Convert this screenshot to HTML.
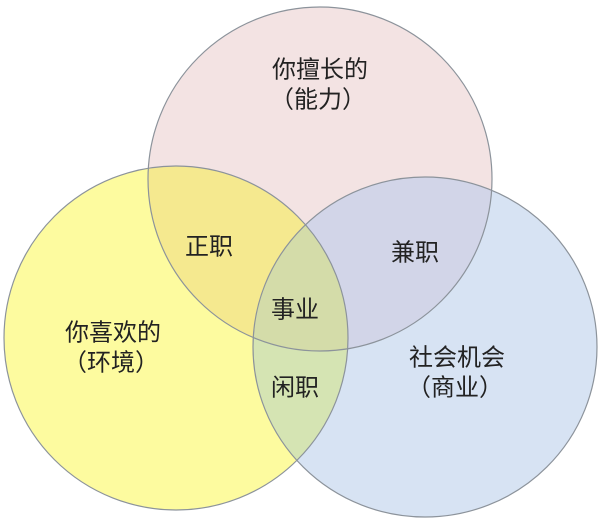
<!DOCTYPE html>
<html><head><meta charset="utf-8"><style>
html,body{margin:0;padding:0;background:#fff;}
svg{display:block;}
text{font-family:"Liberation Sans","Noto Sans CJK SC",sans-serif;font-size:24px;fill:#222;text-anchor:middle;dominant-baseline:central;}
</style></head><body>
<svg width="600" height="523" viewBox="0 0 600 523">
<defs>
<clipPath id="cT"><ellipse cx="320" cy="179" rx="172" ry="172"/></clipPath>
<clipPath id="cL"><ellipse cx="176" cy="338" rx="172" ry="172"/></clipPath>
<clipPath id="cR"><ellipse cx="425" cy="347" rx="172" ry="170"/></clipPath>
</defs>
<ellipse cx="320" cy="179" rx="172" ry="172" fill="#f3e3e3"/>
<ellipse cx="176" cy="338" rx="172" ry="172" fill="#fdfb9f"/>
<ellipse cx="425" cy="347" rx="172" ry="170" fill="#d7e3f3"/>
<g clip-path="url(#cT)">
<ellipse cx="176" cy="338" rx="172" ry="172" fill="#f5e98f"/>
<ellipse cx="425" cy="347" rx="172" ry="170" fill="#d2d5e8"/>
</g>
<g clip-path="url(#cL)">
<ellipse cx="425" cy="347" rx="172" ry="170" fill="#d5e4b3"/>
<g clip-path="url(#cT)"><ellipse cx="425" cy="347" rx="172" ry="170" fill="#d4dca9"/></g>
</g>
<g fill="none" stroke="#8c939b" stroke-width="1.2">
<ellipse cx="320" cy="179" rx="172" ry="172"/>
<ellipse cx="176" cy="338" rx="172" ry="172"/>
<ellipse cx="425" cy="347" rx="172" ry="170"/>
</g>
<text x="320" y="70">你擅长的</text>
<text x="318" y="100">（能力）</text>
<text x="209" y="247">正职</text>
<text x="415" y="253">兼职</text>
<text x="295" y="310">事业</text>
<text x="113" y="333">你喜欢的</text>
<text x="111" y="363">（环境）</text>
<text x="457" y="358">社会机会</text>
<text x="455" y="388">（商业）</text>
<text x="295" y="388">闲职</text>
</svg>
</body></html>
